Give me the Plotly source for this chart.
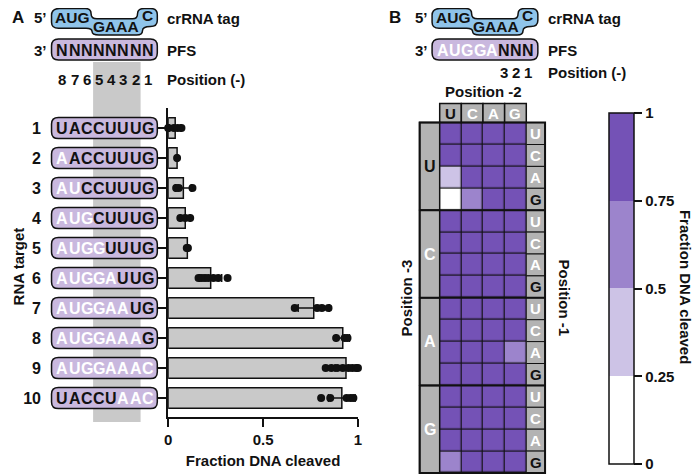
import math

import plotly.graph_objects as go

W, H = 700, 475          # browser window
OFF = 8                  # page body margin around the plot div
FW, FH = W - OFF, H - OFF

# ---------------- panel A data ----------------
tag = "AUGGAAAC"
pfs_a = "NNNNNNNN"
positions_a = ["8", "7", "6", "5", "4", "3", "2", "1"]
target_ids = [1, 2, 3, 4, 5, 6, 7, 8, 9, 10]
targets = [
    "UACCUUUG",
    "AACCUUUG",
    "AUCCUUUG",
    "AUGCUUUG",
    "AUGGUUUG",
    "AUGGAUUG",
    "AUGGAAUG",
    "AUGGAAAG",
    "AUGGAAAC",
    "UACCUAAC",
]
mean_cleaved = [0.037, 0.047, 0.080, 0.090, 0.101, 0.224, 0.767, 0.920, 0.937, 0.915]
sd_cleaved = [0.030, 0.004, 0.042, 0.026, 0.004, 0.058, 0.082, 0.035, 0.058, 0.070]
replicates = [
    [0.0, 0.03, 0.05, 0.07],
    [0.047],
    [0.042, 0.056, 0.128],
    [0.064, 0.090, 0.116],
    [0.098, 0.104],
    [0.160, 0.177, 0.194, 0.212, 0.238, 0.264, 0.313],
    [0.667, 0.785, 0.810, 0.845],
    [0.885, 0.930, 0.945],
    [0.83, 0.86, 0.89, 0.92, 0.95, 0.97, 0.99, 1.0],
    [0.806, 0.854, 0.940, 0.960, 0.976],
]

# ---------------- panel B data ----------------
pfs_b = "AUGGANNN"
positions_b = ["3", "2", "1"]
pos2 = ["U", "C", "A", "G"]   # columns
pos3 = ["U", "C", "A", "G"]   # row groups
pos1 = ["U", "C", "A", "G"]   # rows inside each group
cleaved_grid = [
    [0.93, 0.95, 0.96, 0.97],
    [0.92, 0.95, 0.97, 0.96],
    [0.38, 0.86, 0.94, 0.95],
    [0.12, 0.62, 0.88, 0.93],
    [0.95, 0.96, 0.97, 0.96],
    [0.94, 0.96, 0.95, 0.97],
    [0.95, 0.97, 0.96, 0.95],
    [0.93, 0.95, 0.96, 0.94],
    [0.96, 0.97, 0.95, 0.94],
    [0.95, 0.96, 0.94, 0.93],
    [0.94, 0.95, 0.93, 0.68],
    [0.95, 0.96, 0.95, 0.94],
    [0.93, 0.95, 0.96, 0.95],
    [0.94, 0.96, 0.95, 0.96],
    [0.92, 0.94, 0.95, 0.96],
    [0.66, 0.90, 0.93, 0.95],
]
cb_ticks = [0, 0.25, 0.5, 0.75, 1]
cb_labels = ["0", "0.25", "0.5", "0.75", "1"]

# ---------------- style ----------------
FONT = "Liberation Sans, Arial, sans-serif"
INK = "#111111"
BLUE = "#8fc4ea"
LILAC = "#c9b8de"
BAND = "#c9c9c9"
CELL = "#b3b3b3"
PURPLES = ["#ffffff", "#cdc3e6", "#9c84cc", "#7452b6"]


def px(x):
    return (x - OFF) / FW


def py(y):
    return 1 - (y - OFF) / FH


def ty(y):
    # squeeze the crRNA balloon so that it starts below the page margin
    return 8.5 + (y - 2) * 26.5 / 31


def rounded_path(x0, x1, y0, y1, rx, ry):
    rx = math.copysign(abs(rx), x1 - x0)
    ry = math.copysign(abs(ry), y1 - y0)
    return (
        f"M{x0 + rx},{y0} L{x1 - rx},{y0} Q{x1},{y0} {x1},{y0 + ry} "
        f"L{x1},{y1 - ry} Q{x1},{y1} {x1 - rx},{y1} L{x0 + rx},{y1} "
        f"Q{x0},{y1} {x0},{y1 - ry} L{x0},{y0 + ry} Q{x0},{y0} {x0 + rx},{y0} Z"
    )


def tag_path(ox):
    # stepped balloon around the crRNA tag, window pixels
    segs = [
        ("M", 56, 2), ("L", 82, 2), ("Q", 88, 2, 88, 8), ("Q", 88, 14, 94, 14),
        ("L", 130, 14), ("Q", 135, 14, 135, 8), ("Q", 135, 2, 142, 2),
        ("L", 148, 2), ("Q", 155, 2, 155, 9), ("L", 155, 16), ("Q", 155, 23, 148, 23),
        ("Q", 140, 23, 140, 28), ("Q", 140, 33, 134, 33), ("L", 96, 33),
        ("Q", 89, 33, 89, 29), ("Q", 89, 25, 83, 25), ("L", 55, 25),
        ("Q", 48, 25, 48, 18), ("L", 48, 10), ("Q", 48, 2, 56, 2),
    ]
    out = []
    for s in segs:
        nums = s[1:]
        pts = [f"{px(nums[i] + ox):.5f},{py(ty(nums[i + 1])):.5f}" for i in range(0, len(nums), 2)]
        out.append(s[0] + " ".join(pts))
    return " ".join(out) + " Z"


fig = go.Figure()


def label(x, y, text, size=15, color=INK, xanchor="center", angle=0, xref="paper", yref="paper"):
    fig.add_annotation(
        x=x, y=y, xref=xref, yref=yref, text=text, showarrow=False,
        xanchor=xanchor, yanchor="middle", textangle=angle,
        font=dict(family=FONT, size=size, color=color, weight="bold"),
    )


LX0, LDX = 59.0, 12.35   # letter column centres in the sequence boxes


def letter_x(i, ox=0):
    return LX0 + i * LDX + ox


def header_block(ox, pfs, numbers, num_start, num_y):
    label(px(ox + 37), py(17), "5’")
    fig.add_shape(type="path", path=tag_path(ox), xref="paper", yref="paper",
                  fillcolor=BLUE, line=dict(color=INK, width=1.5))
    label(px(ox + 69), py(ty(12.5)), tag[:3], size=15.5)
    label(px(ox + 113), py(ty(23.5)), tag[3:7], size=15.5)
    label(px(ox + 145), py(ty(10.5)), tag[7:], size=15.5)
    label(px(ox + 163), py(18), "crRNA tag", xanchor="left")

    label(px(ox + 37), py(50), "3’")
    fig.add_shape(type="path", xref="paper", yref="paper",
                  path=rounded_path(px(ox + 48), px(ox + 155), py(39), py(60), 7 / FW, 7 / FH),
                  fillcolor=LILAC, line=dict(color=INK, width=1.5))
    for i, ch in enumerate(pfs):
        label(px(letter_x(i, ox)), py(50), ch, size=16,
              color="white" if ch == tag[i] else INK)
    label(px(ox + 163), py(50), "PFS", xanchor="left")
    for k, n in enumerate(numbers):
        label(px(letter_x(num_start + k, ox)), py(num_y), n)
    label(px(ox + 163), py(num_y), "Position (-)", xanchor="left")


# ---------------- panel A ----------------
label(px(14), py(17), "A", size=17)
header_block(0, pfs_a, positions_a, 0, 79)

fig.add_shape(type="rect", xref="paper", yref="paper", layer="below",
              x0=px(letter_x(3) - 6), x1=px(letter_x(6) + 5), y0=py(422), y1=py(62),
              fillcolor=BAND, line=dict(width=0))

for rid, seq in zip(target_ids, targets):
    fig.add_shape(type="path", xref="paper", yref="y",
                  path=rounded_path(px(48), px(155), rid - 0.35, rid + 0.35, 7 / FW, 0.22),
                  fillcolor=LILAC, line=dict(color=INK, width=1.5))
    for i, ch in enumerate(seq):
        label(px(letter_x(i)), rid, ch, size=16, yref="y",
              color="white" if ch == tag[i] else INK)

label(px(14.5), py(266), "RNA target", angle=-90)

fig.add_trace(go.Bar(
    x=mean_cleaved, y=target_ids, orientation="h", width=0.68,
    marker=dict(color=BAND, line=dict(color=INK, width=1.5)),
    error_x=dict(type="data", array=sd_cleaved, color=INK, thickness=1.5, width=4),
    xaxis="x", yaxis="y", hoverinfo="x+y",
))
dot_x, dot_y = [], []
for rid, reps in zip(target_ids, replicates):
    dot_x += reps
    dot_y += [rid] * len(reps)
fig.add_trace(go.Scatter(
    x=dot_x, y=dot_y, mode="markers", cliponaxis=False,
    marker=dict(color=INK, size=8), xaxis="x", yaxis="y",
))

# ---------------- panel B ----------------
OXB = 385
label(px(395), py(17), "B", size=17)
header_block(OXB, pfs_b, positions_b, 5, 72)
label(px(485), py(91), "Position -2")

C = 21.9                       # heatmap cell size in px
GX0, GY0 = 440.7, 122.6        # heatmap top-left corner in px
LW, RW, HH, PAD = 20.3 / C, 19.0 / C, 19.0 / C, 3.0
GX1, GY1 = GX0 + 4 * C, GY0 + 16 * C

fig.add_shape(type="rect", xref="x2", yref="y2", layer="below",
              x0=-0.5, x1=3.5, y0=-0.5, y1=15.5, fillcolor=INK, line=dict(width=0))
fig.add_trace(go.Heatmap(
    z=cleaved_grid, x=list(range(4)), y=list(range(16)), xaxis="x2", yaxis="y2",
    zmin=0, zmax=1, xgap=1.2, ygap=1.2,
    colorscale=[[0, PURPLES[0]], [0.25, PURPLES[0]], [0.25, PURPLES[1]], [0.5, PURPLES[1]],
                [0.5, PURPLES[2]], [0.75, PURPLES[2]], [0.75, PURPLES[3]], [1, PURPLES[3]]],
    colorbar=dict(
        x=px(612), xanchor="left", y=py(464), yanchor="bottom",
        len=351, lenmode="pixels", thickness=25, thicknessmode="pixels",
        xpad=0, ypad=0, outlinewidth=1.5, outlinecolor=INK,
        tickvals=cb_ticks, ticktext=cb_labels, ticks="outside", ticklen=8,
        tickwidth=1.5, tickcolor=INK,
        tickfont=dict(family=FONT, size=15, color=INK, weight="bold"),
    ),
))

black_first = {"U"}
for j, ch in enumerate(pos2):
    fig.add_shape(type="rect", xref="x2", yref="y2", x0=j - 0.5, x1=j + 0.5,
                  y0=-0.5 - HH, y1=-0.5, fillcolor=CELL, line=dict(color=INK, width=1.5))
    label(j, -0.5 - HH / 2, ch, size=15, xref="x2", yref="y2",
          color=INK if ch in black_first else "white")
for g, ch in enumerate(pos3):
    fig.add_shape(type="rect", xref="x2", yref="y2", x0=-0.5 - LW, x1=-0.5,
                  y0=g * 4 - 0.5, y1=g * 4 + 3.5, fillcolor=CELL, line=dict(color=INK, width=1.5))
    label(-0.5 - LW / 2, g * 4 + 1.5, ch, size=16, xref="x2", yref="y2",
          color=INK if ch in black_first else "white")
    for k, ch1 in enumerate(pos1):
        r = g * 4 + k
        fig.add_shape(type="rect", xref="x2", yref="y2", x0=3.5, x1=3.5 + RW,
                      y0=r - 0.5, y1=r + 0.5, fillcolor=CELL, line=dict(color=INK, width=1))
        label(3.5 + RW / 2, r, ch1, size=15, xref="x2", yref="y2",
              color=INK if ch1 == "G" else "white")
for g in range(1, 4):
    fig.add_shape(type="line", xref="x2", yref="y2", x0=-0.5 - LW, x1=3.5 + RW,
                  y0=g * 4 - 0.5, y1=g * 4 - 0.5, line=dict(color=INK, width=2))
fig.add_shape(type="rect", xref="x2", yref="y2", x0=-0.5 - LW, x1=3.5 + RW,
              y0=-0.5, y1=15.5, line=dict(color=INK, width=2))

label(px(407), py(298), "Position -3", angle=-90)
label(px(567), py(298), "Position -1", angle=90)
label(px(690), py(287), "Fraction DNA cleaved", angle=90)

for v in cb_ticks[1:-1]:
    fig.add_shape(type="line", xref="paper", yref="paper", x0=px(612), x1=px(637),
                  y0=py(464 - v * 351), y1=py(464 - v * 351), line=dict(color=INK, width=1.5))

axis_font = dict(family=FONT, size=15, color=INK, weight="bold")
fig.update_layout(
    width=FW, height=FH, margin=dict(l=0, r=0, t=0, b=0),
    paper_bgcolor="white", plot_bgcolor="white", showlegend=False,
    font=dict(family=FONT, color=INK, size=15),
    xaxis=dict(
        domain=[px(166), px(358)], range=[0, 1], showgrid=False, zeroline=False,
        showline=True, linecolor=INK, linewidth=2,
        tickvals=[0, 0.5, 1], ticktext=["0", "0.5", "1"], ticks="outside",
        ticklen=8, tickwidth=2, tickcolor=INK, tickfont=axis_font,
        title=dict(text="Fraction DNA cleaved", font=axis_font, standoff=8),
    ),
    yaxis=dict(
        domain=[py(417), py(108)], range=[10.633, 0.333], showgrid=False, zeroline=False,
        showline=True, linecolor=INK, linewidth=2,
        tickvals=target_ids, ticktext=[str(t) for t in target_ids], ticks="outside",
        ticklen=10, tickwidth=2, tickcolor=INK,
        tickfont=dict(family=FONT, size=16, color=INK, weight="bold"),
        ticklabelstandoff=112,
    ),
    xaxis2=dict(
        domain=[px(GX0 - LW * C - PAD), px(GX1 + RW * C + PAD)],
        range=[-0.5 - LW - PAD / C, 3.5 + RW + PAD / C], visible=False,
    ),
    yaxis2=dict(
        domain=[max(py(GY1 + 2), 0), py(GY0 - HH * C - PAD)],
        range=[15.5 + 2 / C, -0.5 - HH - PAD / C], visible=False,
    ),
)

fig.write_html("out.html")
